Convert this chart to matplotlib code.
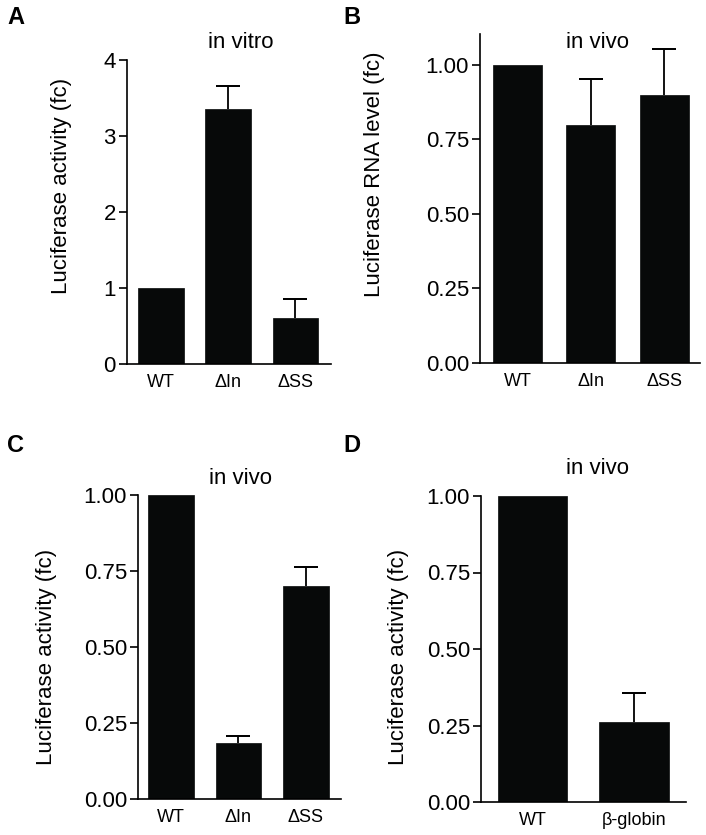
import matplotlib
matplotlib.use("Agg")
import matplotlib.pyplot as plt
import matplotlib.ticker as mticker

plt.rcParams['font.family'] = ['Liberation Sans', 'DejaVu Sans']

# Data
cats_abc = ["WT", "ΔIn", "ΔSS"]
cats_d = ["WT", "β-globin"]

a_vals = [1.0, 3.35, 0.61]
a_err = [0.0, 0.31, 0.24]

b_vals = [1.0, 0.80, 0.90]
b_err = [0.0, 0.153, 0.154]

c_vals = [1.0, 0.184, 0.70]
c_err = [0.0, 0.024, 0.064]

d_vals = [1.0, 0.26]
d_err = [0.0, 0.095]

W, H = 706, 835
fig = plt.figure(figsize=(W / 100, H / 100), dpi=100)

BAR = '#070909'

def px_axes(l, r, t, b):
    return fig.add_axes([l / W, 1 - b / H, (r - l) / W, (b - t) / H])

def style(ax, cats, vals, errs, width, xlim, ylim, yticks, fmt, ylabel, lab_xy):
    x = list(range(len(cats)))
    ax.bar(x, vals, width=width, color=BAR, edgecolor=BAR, linewidth=0.5, zorder=2)
    for xi, v, e in zip(x, vals, errs):
        if e > 0:
            eb = ax.errorbar([xi], [v], yerr=[[0], [e]], fmt='none', ecolor='black',
                             elinewidth=1.3, capsize=8.3, capthick=1.3, zorder=3)
            # keep only the upper cap
            for cl in eb[1]:
                cl.set_data([xi], [v + e])
    ax.set_xlim(*xlim)
    ax.set_ylim(*ylim)
    ax.set_yticks(yticks)
    ax.yaxis.set_major_formatter(mticker.FormatStrFormatter(fmt))
    ax.set_xticks(x)
    ax.set_xticklabels(cats, fontsize=13)
    ax.tick_params(axis='x', length=0, pad=7)
    ax.tick_params(axis='y', length=6, width=1.2, labelsize=16, pad=2, direction='out')
    for s in ['top', 'right']:
        ax.spines[s].set_visible(False)
    for s in ['left', 'bottom']:
        ax.spines[s].set_linewidth(1.2)
    ax.set_ylabel(ylabel, fontsize=16)
    ax.yaxis.set_label_coords(lab_xy[0] / W, 1 - lab_xy[1] / H, transform=fig.transFigure)

# Panel A
axA = px_axes(127, 331, 60, 364)
style(axA, cats_abc, a_vals, a_err, 0.676, (-0.505, 2.53), (0, 4), [0, 1, 2, 3, 4], '%d',
      'Luciferase activity (fc)', (72, 186))

# Panel B
axB = px_axes(480, 700, 34, 363)
style(axB, cats_abc, b_vals, b_err, 0.668, (-0.51, 2.49), (0, 1.104),
      [0, 0.25, 0.5, 0.75, 1.0], '%.2f', 'Luciferase RNA level (fc)', (385, 174))

# Panel C
axC = px_axes(138, 341, 495, 799)
style(axC, cats_abc, c_vals, c_err, 0.68, (-0.49, 2.52), (0, 1.0),
      [0, 0.25, 0.5, 0.75, 1.0], '%.2f', 'Luciferase activity (fc)', (57, 657))

# Panel D
axD = px_axes(481, 686, 496, 802)
style(axD, cats_d, d_vals, d_err, 0.68, (-0.507, 1.512), (0, 1.0),
      [0, 0.25, 0.5, 0.75, 1.0], '%.2f', 'Luciferase activity (fc)', (409, 657))

# Titles
fig.text(241 / W, 1 - 43 / H, 'in vitro', fontsize=16, ha='center', va='center')
fig.text(597 / W, 1 - 43 / H, 'in vivo', fontsize=16, ha='center', va='center')
fig.text(241 / W, 1 - 479 / H, 'in vivo', fontsize=16, ha='center', va='center')
fig.text(597 / W, 1 - 468 / H, 'in vivo', fontsize=16, ha='center', va='center')

# Panel letters
for lab, x, y in [('A', 7, 18), ('B', 343, 18), ('C', 7, 445), ('D', 343, 445)]:
    fig.text(x / W, 1 - y / H, lab, fontsize=17, fontweight='bold', ha='left', va='center')

fig.savefig('out.png', dpi=100)
